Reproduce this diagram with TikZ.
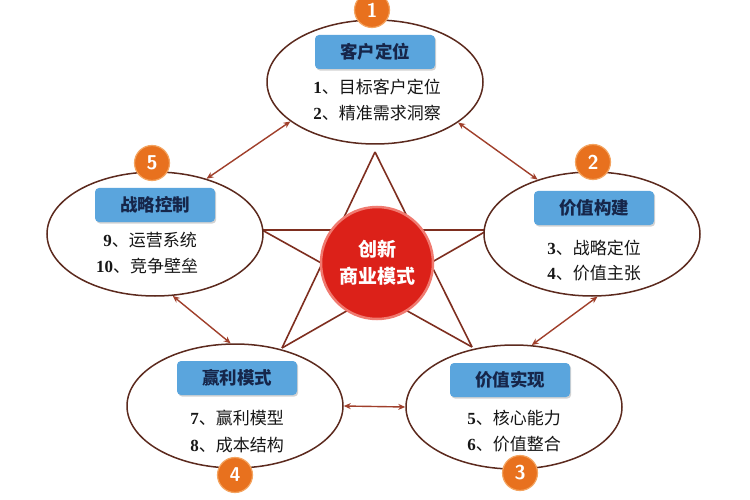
\documentclass[tikz,border=0pt]{standalone}
\usepackage{fontspec}
\setmainfont{Liberation Serif}
\newfontfamily\cjk{Noto Sans CJK SC}
\usetikzlibrary{shapes.geometric,arrows.meta,shadows}
\definecolor{edgebrown}{HTML}{5C2A1E}
\definecolor{starred}{HTML}{7E2E1F}
\definecolor{arrred}{HTML}{A03F2B}
\definecolor{numorange}{HTML}{E8711E}
\definecolor{numring}{HTML}{F4A460}
\definecolor{boxblue}{HTML}{5AA5DD}
\definecolor{boxtext}{HTML}{16264A}
\definecolor{corered}{HTML}{DC2119}
\definecolor{corering}{HTML}{F07A70}
\definecolor{bodytext}{HTML}{161616}
\tikzset{
  oval/.style={ellipse, draw=edgebrown, line width=1.5pt, fill=white,
    minimum width=216pt, minimum height=124pt, inner sep=0pt},
  numdot/.style={circle, fill=numorange, draw=numring, line width=1.2pt,
    minimum size=35pt, inner sep=0pt, text=white,
    font=\fontsize{20}{20}\selectfont\bfseries\sffamily},
  titlebox/.style={rectangle, rounded corners=4pt, fill=boxblue,
    minimum width=120pt, minimum height=34pt, inner sep=0pt, text=boxtext,
    font=\cjk\bfseries\fontsize{17.5}{20}\selectfont,
    drop shadow={shadow xshift=1.2pt, shadow yshift=-1.6pt, opacity=0.35}},
  bodyline/.style={inner sep=0pt, text=bodytext,
    font=\cjk\fontsize{17}{20}\selectfont},
  starline/.style={draw=starred, line width=1.6pt},
  dblarrow/.style={draw=arrred, line width=1.4pt,
    {Stealth[length=7pt,width=6pt]}-{Stealth[length=7pt,width=6pt]}},
  core/.style={circle, fill=corered, draw=corering, line width=2.5pt,
    minimum size=112pt, inner sep=0pt, text=white, align=center,
    font=\cjk\bfseries\fontsize{19}{27}\selectfont}
}
\newcommand{\numtxt}[1]{{\rmfamily\bfseries\fontsize{17}{20}\selectfont #1}}
\begin{document}
\begin{tikzpicture}[x=1pt,y=-1pt]
\useasboundingbox (0,0) rectangle (750,500);
\fill[white] (0,0) rectangle (750,500);
% star
\coordinate (sT) at (375,152);
\coordinate (sL) at (262,230);
\coordinate (sR) at (488,230);
\coordinate (sBL) at (282,348);
\coordinate (sBR) at (472,347);
\draw[starline] (sT) -- (sBL);
\draw[starline] (sT) -- (sBR);
\draw[starline] (sL) -- (sR);
\draw[starline] (sL) -- (sBR);
\draw[starline] (sR) -- (sBL);
% ellipses
\node[oval] (e1) at (375,82) {};
\node[oval] (e2) at (592,234) {};
\node[oval] (e3) at (514,407) {};
\node[oval] (e4) at (235,406) {};
\node[oval] (e5) at (155,234) {};
% core
\node[core] (c) at (377,263) {创新\\商业模式};
% arrows
\draw[dblarrow] (e5.47) -- (e1.205);
\draw[dblarrow] (e1.334) -- (e2.135);
\draw[dblarrow] (e2.275) -- (e3.74);
\draw[dblarrow] (e4.east) -- (e3.west);
\draw[dblarrow] (e5.286) -- (e4.94);
% titles
\node[titlebox] (t1) at (375,52) {客户定位};
\node[titlebox] (t2) at (594,208) {价值构建};
\node[titlebox] (t3) at (510,380) {价值实现};
\node[titlebox] (t4) at (237,378) {赢利模式};
\node[titlebox] (t5) at (155,205) {战略控制};
% body lines
\node[bodyline] (b1a) at (377,87) {\numtxt{1}、目标客户定位};
\node[bodyline] (b1b) at (377,113) {\numtxt{2}、精准需求洞察};
\node[bodyline] (b2a) at (594,248) {\numtxt{3}、战略定位};
\node[bodyline] (b2b) at (594,273) {\numtxt{4}、价值主张};
\node[bodyline] (b3a) at (514,418) {\numtxt{5}、核心能力};
\node[bodyline] (b3b) at (514,444) {\numtxt{6}、价值整合};
\node[bodyline] (b4a) at (237,418) {\numtxt{7}、赢利模型};
\node[bodyline] (b4b) at (237,445) {\numtxt{8}、成本结构};
\node[bodyline] (b5a) at (150,240) {\numtxt{9}、运营系统};
\node[bodyline] (b5b) at (147,266) {\numtxt{10}、竞争壁垒};
% number badges
\node[numdot] (n1) at (372,10) {1};
\node[numdot] (n2) at (593,162) {2};
\node[numdot] (n3) at (520,473) {3};
\node[numdot] (n4) at (235,475) {4};
\node[numdot] (n5) at (152,163) {5};
\end{tikzpicture}
\end{document}
